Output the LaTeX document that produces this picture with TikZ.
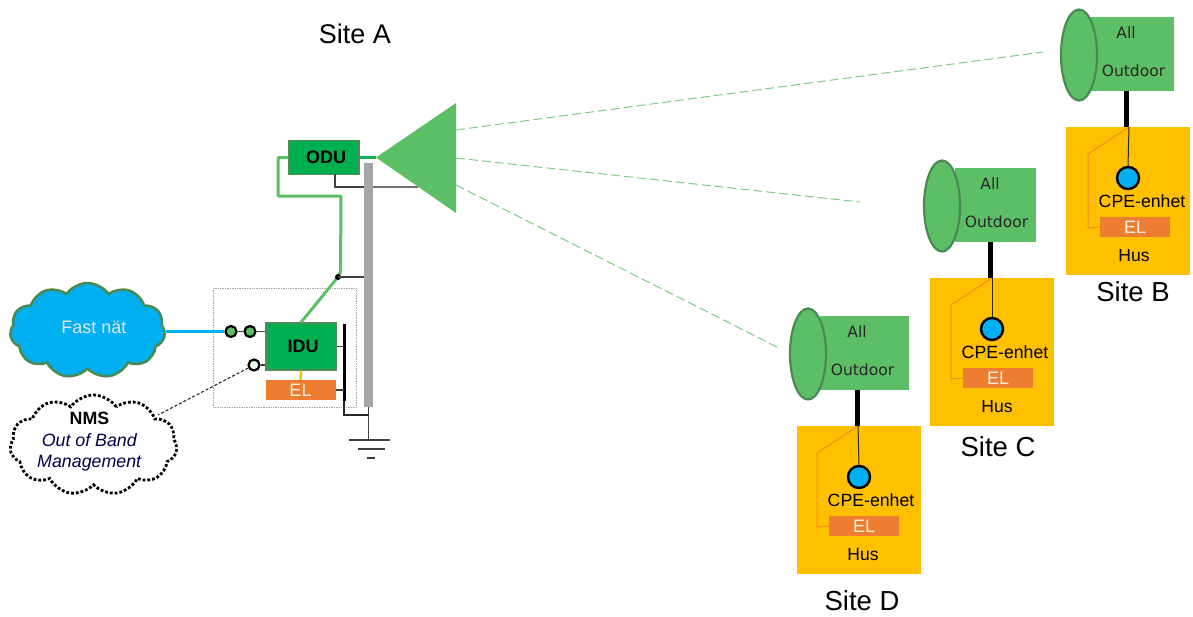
\documentclass[tikz,border=0pt]{standalone}
\usepackage{fontspec}
\setmainfont{Liberation Sans}
\newfontfamily\wideface{DejaVu Sans}
\usetikzlibrary{shapes.geometric,shapes.symbols}
\definecolor{antgreen}{HTML}{5CBF66}
\definecolor{edgegreen}{HTML}{4A8A52}
\definecolor{unitgreen}{HTML}{00B050}
\definecolor{netblue}{HTML}{00B0F0}
\definecolor{housegold}{HTML}{FFC000}
\definecolor{powerorange}{HTML}{ED7D31}
\definecolor{polegray}{HTML}{A6A6A6}
\tikzset{
    box/.style={draw=none,inner sep=0pt,minimum width=#1},
    unit/.style={box=70,fill=unitgreen,draw=edgegreen!80!gray,line width=1.2pt},
    unittext/.style={font=\fontsize{18}{20}\selectfont\bfseries},
    power/.style={box=70,minimum height=20,fill=powerorange,text=white!90!orange,font=\fontsize{18}{20}\selectfont},
    port/.style={circle,draw=black,line width=2.2pt,inner sep=0pt,minimum size=11,fill=antgreen},
    sitelabel/.style={font=\fontsize{27.5}{30}\selectfont},
    radiotext/.style={font=\wideface\fontsize{15.5}{17}\selectfont,text=black!85},
    link/.style={dash pattern=on 9pt off 4pt,antgreen!80!white,line width=1pt},
    thin wire/.style={line width=1.1pt,black!75}
}
\begin{document}
\begin{tikzpicture}[x=1pt,y=-1pt]
    \useasboundingbox (0,0) rectangle (1193,616);
    %% Radio links
    \coordinate (linkA1) at (456,130);
    \coordinate (linkA2) at (456,158);
    \coordinate (linkA3) at (456,185);
    \coordinate (linkB) at (1043,52);
    \coordinate (linkC) at (860,202);
    \coordinate (linkD) at (777,347);
    \draw[link] (linkA1) -- (linkB);
    \draw[link] (linkA2) -- (linkC);
    \draw[link] (linkA3) -- (linkD);
    %% Site A title
    \node[font=\fontsize{27}{30}\selectfont] (titleA) at (355,34) {Site A};
    %% Pole and ground
    \node[box=9,minimum height=244,fill=polegray,anchor=north] (pole) at (368.5,163) {};
    \coordinate (earth) at (368.5,440);
    \coordinate (poletap) at (368.5,415);
    \coordinate (joint) at (338,277);
    \draw[thin wire] (pole.south) -- (earth);
    \draw[thin wire] (349,440) -- (390,440);
    \draw[thin wire] (358,449) -- (385,449);
    \draw[thin wire] (367,458) -- (375,458);
    %% Dotted enclosure
    \node[draw=black!35,densely dotted,line width=0.7pt,inner sep=0pt,minimum width=143,minimum height=119,anchor=north west] (rack) at (213,288) {};
    %% Outdoor unit and antenna
    \coordinate (apex) at (376,157.5);
    \fill[antgreen] (apex) -- (456,103) -- (456,213) -- cycle;
    \node[unit,minimum height=34] (odu) at (324,157.5) {};
    \node[unittext] (odutext) at (326,157.5) {ODU};
    \draw[line width=2.5pt,unitgreen!80!antgreen] (odu.east) -- (apex);
    \coordinate (odufoot) at (335,174);
    \coordinate (mount) at (418,187);
    \draw[thin wire] (odufoot) -- (335,187) -- (364,187);
    \draw[line width=1.4pt,black!55] (373,187) -- (mount);
    %% Indoor unit
    \node[unit,minimum height=47] (idu) at (301,346.5) {};
    \node[unittext] (idutext) at (303,346.5) {IDU};
    \node[power] (el) at (300.5,390) {EL};
    \draw[line width=2.5pt,housegold] (idu.south) -- (el.north);
    \draw[line width=3pt,antgreen,rounded corners=1pt] (odu.west) -- (278,157.5) -- (278,196) -- (341,196) -- (340.5,272) -- (joint) -- (idu.north);
    \fill (joint) circle (3);
    \draw[thin wire] (joint) -- (364,277);
    %% Power bar
    \node[box=3,minimum height=77,fill=black,anchor=north] (bar) at (344,324) {};
    \draw[thin wire] (idu.east) -- (344,346.5);
    \draw[thin wire] (el.east) -- (344,390);
    \draw[line width=1.1pt,black!85] (bar.south) -- (344,415) -- (poletap);
    %% Fast net cloud
    \node[cloud,cloud puffs=11,cloud puff arc=110,aspect=1.7,draw=edgegreen,line width=2.5pt,fill=netblue,inner sep=0pt,minimum width=155,minimum height=95] (fastnet) at (87.5,330.5) {};
    \node[text=white!90!blue,font=\fontsize{18}{20}\selectfont] (fastnettext) at (94,327) {Fast n\"at};
    %% NMS cloud
    \node[cloud,cloud puffs=11,cloud puff arc=110,aspect=1.7,draw=black,dotted,line width=2.8pt,fill=white,inner sep=0pt,minimum width=167,minimum height=100] (nms) at (93.5,445) {};
    \node[align=center,font=\fontsize{17.8}{21.5}\selectfont] (nmstext) at (89.5,442) {\textbf{NMS}\\\textcolor{blue!30!black}{\textit{Out of Band}}\\\textcolor{blue!30!black}{\textit{Management}}};
    %% Ports
    \node[port] (port1) at (231,331.5) {};
    \node[port] (port2) at (250,331.5) {};
    \node[port,fill=green!10!white] (port3) at (254,365) {};
    \draw[line width=3pt,netblue] (fastnet.east |- port1) -- (port1.west);
    \draw[thin wire] (port1) -- (port2);
    \draw[thin wire] (port2) -- (idu.west |- port2);
    \draw[thin wire] (port3) -- (idu.west |- port3);
    \coordinate (nmsend) at (158,415);
    \draw[black!85,densely dashed,line width=1.1pt] (port3) -- (nmsend);
    %% Sites B, C and D
    \foreach \sname/\dx/\dy/\ex/\rl/\rr/\labelx/\labely in {B/269/-299/2/821/905/1133/292,C/133/-148/1/822/903/998/447,D/0/0/0/820/909/862/601} {
        \begin{scope}[shift={(\dx,\dy)}]
            %% Radio and house
            \pgfmathsetmacro{\rw}{\rr-\rl}
            \node[box=\rw,minimum height=74,fill=antgreen,anchor=north west] (radio\sname) at (\rl,316) {};
            \node[ellipse,draw=edgegreen,line width=2.2pt,fill=antgreen,inner sep=0pt,minimum width=36,minimum height=91] (dish\sname) at (808+\ex,354) {};
            \node[box=124,minimum height=148,fill=housegold,anchor=north west] (house\sname) at (797,426) {};
            \coordinate (entry\sname) at (858+\ex,426);
            \draw[line width=5pt] (857,390) -- (857,426);
            \node[radiotext] (all\sname) at (857,332) {All};
            \node[radiotext] (outdoor\sname) at (862.5+\ex,370) {Outdoor};
            %% Inside the house
            \node[power] (el\sname) at (864+\ex,526) {EL};
            \draw[line width=1pt,powerorange!80!housegold] (entry\sname) -- (817+\ex,453) -- (817+\ex,527) -- (el\sname.west);
            \node[circle,draw=black,line width=2.4pt,fill=netblue,inner sep=0pt,minimum size=22] (cpe\sname) at (859,477) {};
            \draw[line width=1pt,black!85] (entry\sname) -- (cpe\sname.north);
            \node[font=\fontsize{17.7}{19}\selectfont] (cpetext\sname) at (871+\ex,500.5) {CPE-enhet};
            \node[font=\fontsize{17.5}{19}\selectfont] (hus\sname) at (863+\ex,555) {Hus};
        \end{scope}
        \node[sitelabel] (title\sname) at (\labelx,\labely) {Site \sname};
    }
\end{tikzpicture}
\end{document}
